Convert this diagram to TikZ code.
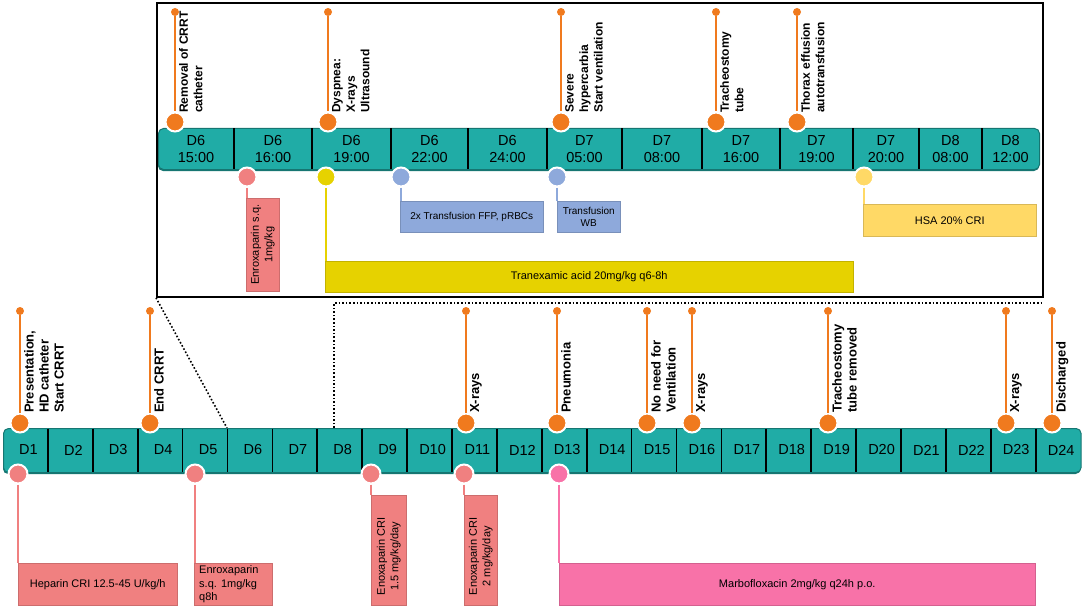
\documentclass[tikz,border=0pt]{standalone}
\usepackage{fontspec}
\setmainfont{Liberation Sans}
\definecolor{teal1}{RGB}{32,172,166}
\definecolor{tealdark}{RGB}{22,118,114}
\definecolor{pinorange}{RGB}{240,122,30}
\definecolor{salmon}{RGB}{240,128,128}
\definecolor{tranyellow}{RGB}{230,210,0}
\definecolor{blueish}{RGB}{142,169,219}
\definecolor{lightyellow}{RGB}{255,217,102}
\definecolor{hotpink}{RGB}{248,114,168}
\begin{document}
\begin{tikzpicture}[x=1pt,y=-1pt,
  bar/.style={draw=tealdark, fill=teal1, rounded corners=5pt, line width=1pt, inner sep=0, anchor=north west},
  cell/.style={font=\fontsize{14.5}{17}\selectfont, align=center, inner sep=0},
  divider/.style={line width=1.7pt, black},
  pinline/.style={pinorange, line width=2pt},
  pindot/.style={circle, fill=pinorange, minimum size=8pt, inner sep=0},
  pinball/.style={circle, fill=#1, draw=white, line width=2pt, minimum size=19pt, inner sep=0},
  druglink/.style={draw=#1, line width=1.6pt},
  drugbox/.style={fill=#1, draw=#1!85!black, line width=0.5pt, inner sep=0, anchor=north west},
  toplabel/.style={rotate=90, anchor=north west, align=left, inner sep=0, font=\bfseries\fontsize{12}{14.5}\selectfont},
  botlabel/.style={rotate=90, anchor=north west, align=left, inner sep=0, font=\bfseries\fontsize{13}{15}\selectfont},
  boxtext/.style={font=\fontsize{11}{13.5}\selectfont, inner sep=0, align=center},
  smalltext/.style={font=\fontsize{10}{12}\selectfont, inner sep=0, align=center},
  zoomline/.style={dotted, line width=1.6pt}
]
\useasboundingbox (0,0) rectangle (1084,607);

% zoom box
\node[draw=black, line width=1.8pt, minimum width=886pt, minimum height=294pt, anchor=north west, inner sep=0] (zoombox) at (156,2) {};

% ---------- top bar ----------
\fill[tealdark, rounded corners=5pt] (158,131) rectangle (1039,171);
\node[bar, minimum width=881pt, minimum height=41pt] (topbar) at (158,128) {};
\foreach \xx in {234,312,391,468,547,622,702,780,853,919,982}
  \draw[divider] (\xx,128.5) -- (\xx,169);
\foreach \a/\b/\t [count=\i] in {158/234/{D6\\15:00},234/312/{D6\\16:00},312/391/{D6\\19:00},391/468/{D6\\22:00},468/547/{D6\\24:00},547/622/{D7\\05:00},622/702/{D7\\08:00},702/780/{D7\\16:00},780/853/{D7\\19:00},853/919/{D7\\20:00},919/982/{D8\\08:00},982/1039/{D8\\12:00}}
  \node[cell] (tc\i) at ({(\a+\b)/2},149) {\t};

% top event pins
\foreach \x/\lab [count=\i] in {175/{Removal of CRRT\\catheter},328/{Dyspnea:\\X-rays\\Ultrasound},561/{Severe\\hypercarbia\\Start ventilation},716/{Tracheostomy\\tube},797/{Thorax effusion\\autotransfusion}}{
  \node[pindot] (tdot\i) at (\x,12) {};
  \node[pinball=pinorange] (tball\i) at (\x,122) {};
  \draw[pinline] (tdot\i) -- (tball\i);
  \node[toplabel] (tlab\i) at (\x+4,113) {\lab};
}

% top treatment pins and boxes
\node[pinball=salmon] (tp1) at (247,177) {};
\node[pinball=tranyellow] (tp2) at (326,177) {};
\node[pinball=blueish] (tp3) at (401,177) {};
\node[pinball=blueish] (tp4) at (557,177) {};
\node[pinball=lightyellow] (tp5) at (864,177) {};

\node[drugbox=salmon, minimum width=33pt, minimum height=93pt] (tb1) at (246,198) {};
\node[drugbox=tranyellow, minimum width=528pt, minimum height=31pt] (tb2) at (325,261) {};
\node[drugbox=blueish, minimum width=143pt, minimum height=31pt] (tb3) at (400,201) {};
\node[drugbox=blueish, minimum width=63pt, minimum height=31pt] (tb4) at (557,201) {};
\node[drugbox=lightyellow, minimum width=173pt, minimum height=32pt] (tb5) at (863,204) {};

\draw[druglink=salmon] (tp1) -- (tp1 |- tb1.north);
\draw[druglink=tranyellow] (tp2) -- (tp2 |- tb2.north);
\draw[druglink=blueish] (tp3) -- (tp3 |- tb3.north);
\draw[druglink=blueish] (tp4) -- (tp4 |- tb4.north);
\draw[druglink=lightyellow] (tp5) -- (tp5 |- tb5.north);

\node[boxtext, rotate=90] (tt1) at (tb1.center) {Enroxaparin s.q.\\1mg/kg};
\node[boxtext] (tt2) at (tb2.center) {Tranexamic acid 20mg/kg q6-8h};
\node[smalltext] (tt3) at (tb3.center) {2x Transfusion FFP, pRBCs};
\node[smalltext] (tt4) at (tb4.center) {Transfusion\\WB};
\node[boxtext] (tt5) at (tb5.center) {HSA 20\% CRI};

% ---------- zoom connectors ----------
\coordinate (z1) at (227,428);
\coordinate (z2) at (334,428);
\coordinate (z3) at (334,303);
\coordinate (z4) at (1042,303);
\draw[zoomline] (zoombox.south west) -- (z1);
\draw[zoomline] (z2) -- (z3) -- (z4);

% ---------- bottom bar ----------
\fill[tealdark, rounded corners=5pt] (3,431) rectangle (1080.6,474);
\node[bar, minimum width=1077.6pt, minimum height=44pt] (botbar) at (3,428) {};
\foreach \i in {1,...,23}
  \draw[divider] ({3+44.9*\i},428.5) -- ({3+44.9*\i},472);
\foreach \i in {1,...,24}
  \node[cell] (bc\i) at ({3+44.9*(\i-0.5)+3},450) {D\i};

% bottom event pins
\foreach \x/\lab [count=\i] in {20/{Presentation,\\HD catheter\\Start CRRT},150/{End CRRT},466/{X-rays},557/{Pneumonia},647/{No need for\\Ventilation},692/{X-rays},828/{Tracheostomy\\tube removed},1006/{X-rays},1052/{Discharged}}{
  \node[pindot] (bdot\i) at (\x,311) {};
  \node[pinball=pinorange] (bball\i) at (\x,423) {};
  \draw[pinline] (bdot\i) -- (bball\i);
  \node[botlabel] (blab\i) at (\x+4,413) {\lab};
}

% bottom treatment pins and boxes
\node[pinball=salmon] (bp1) at (18,474) {};
\node[pinball=salmon] (bp2) at (195,474) {};
\node[pinball=salmon] (bp3) at (371,474) {};
\node[pinball=salmon] (bp4) at (464,474) {};
\node[pinball=hotpink] (bp5) at (559,474) {};

\node[drugbox=salmon, minimum width=159pt, minimum height=42pt] (bb1) at (18,563) {};
\node[drugbox=salmon, minimum width=78pt, minimum height=42pt] (bb2) at (194,563) {};
\node[drugbox=salmon, minimum width=35pt, minimum height=110pt] (bb3) at (371,495) {};
\node[drugbox=salmon, minimum width=33pt, minimum height=110pt] (bb4) at (464,495) {};
\node[drugbox=hotpink, minimum width=476pt, minimum height=42pt] (bb5) at (559,563) {};

\draw[druglink=salmon] (bp1) -- (bp1 |- bb1.north);
\draw[druglink=salmon] (bp2) -- (bp2 |- bb2.north);
\draw[druglink=salmon] (bp3) -- (bp3 |- bb3.north);
\draw[druglink=salmon] (bp4) -- (bp4 |- bb4.north);
\draw[druglink=hotpink] (bp5) -- (bp5 |- bb5.north);

\node[boxtext] (bt1) at (bb1.center) {Heparin CRI 12.5-45 U/kg/h};
\node[boxtext, align=left, anchor=west] (bt2) at ([xshift=5pt]bb2.west) {Enroxaparin\\s.q. 1mg/kg\\q8h};
\node[boxtext, rotate=90] (bt3) at ([yshift=-6pt]bb3.center) {Enoxaparin CRI\\1.5 mg/kg/day};
\node[boxtext, rotate=90] (bt4) at ([yshift=-6pt]bb4.center) {Enoxaparin CRI\\2 mg/kg/day};
\node[boxtext] (bt5) at (bb5.center) {Marbofloxacin 2mg/kg q24h p.o.};
\end{tikzpicture}
\end{document}
